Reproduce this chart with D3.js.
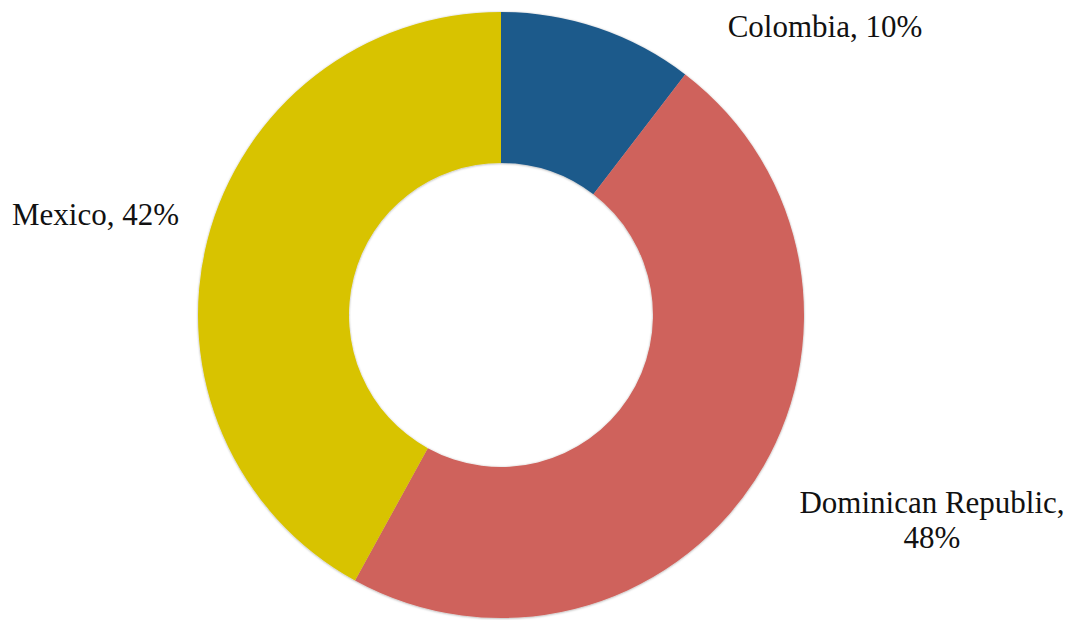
<!DOCTYPE html>
<html>
<head>
<meta charset="utf-8">
<script src="https://cdn.jsdelivr.net/npm/d3@7"></script>
<style>
  html, body { margin: 0; padding: 0; background: #fff; }
  svg { display: block; }
  text { font-family: "Liberation Serif", "Times New Roman", serif; font-size: 31px; fill: #111; }
</style>
</head>
<body>
<svg id="chart" width="1073" height="620"></svg>
<script>
// Share of respondents by country of origin
const countries = ["Colombia", "Dominican Republic", "Mexico"];
const shares = [0.104, 0.476, 0.42];
const colors = ["#1f5a8b", "#cf625b", "#d8c300"];

const width = 1073, height = 620;
const cx = 501, cy = 315;
const outerR = 303, innerR = 152;

const svg = d3.select("#chart");

const defs = svg.append("defs");
const shadow = defs.append("filter").attr("id", "soft")
  .attr("x", "-10%").attr("y", "-10%").attr("width", "120%").attr("height", "120%");
shadow.append("feDropShadow")
  .attr("dx", 0).attr("dy", 0.5).attr("stdDeviation", 1.2)
  .attr("flood-color", "#000").attr("flood-opacity", 0.35);

const data = countries.map((c, i) => ({ country: c, share: shares[i], color: colors[i] }));

const pie = d3.pie().sort(null).value(d => d.share);
const arc = d3.arc().innerRadius(innerR).outerRadius(outerR);

const g = svg.append("g").attr("transform", `translate(${cx},${cy})`).attr("filter", "url(#soft)");
g.selectAll("path")
  .data(pie(data))
  .join("path")
  .attr("d", arc)
  .attr("fill", d => d.data.color);

const pct = d3.format(".0%");

// Label placement: [x, y, anchor, lines]
const labelPos = {
  "Colombia": { x: 825, y: 37, anchor: "middle", lines: d => [`${d.country}, ${pct(d.share)}`] },
  "Dominican Republic": { x: 932, y: 513, anchor: "middle", lines: d => [`${d.country},`, pct(d.share)] },
  "Mexico": { x: 12, y: 225, anchor: "start", lines: d => [`${d.country}, ${pct(d.share)}`] }
};

data.forEach(d => {
  const p = labelPos[d.country];
  const t = svg.append("text")
    .attr("x", p.x).attr("y", p.y)
    .attr("text-anchor", p.anchor);
  p.lines(d).forEach((line, i) => {
    t.append("tspan").attr("x", p.x).attr("dy", i === 0 ? 0 : 35).text(line);
  });
});
</script>
</body>
</html>
